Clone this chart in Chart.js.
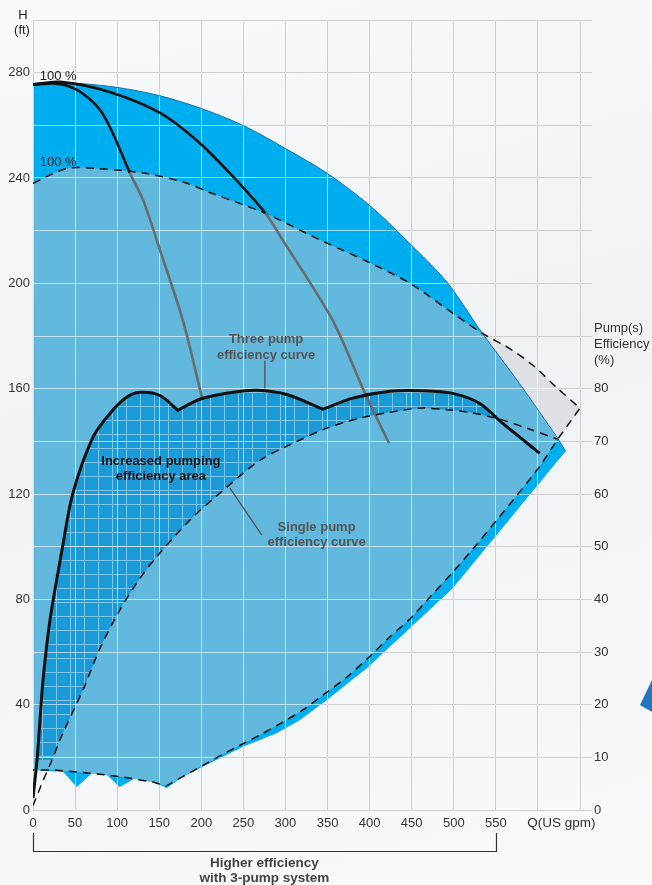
<!DOCTYPE html>
<html>
<head>
<meta charset="utf-8">
<title>Single vs three pump efficiency</title>
<script src="https://cdn.jsdelivr.net/npm/chart.js@4.4.1/dist/chart.umd.min.js"></script>
<style>
  html, body { margin: 0; padding: 0; background: #f5f6f8; }
  #wrap { position: relative; width: 652px; height: 885px; overflow: hidden;
          background: linear-gradient(165deg, #f9fafb 0%, #f0f2f4 45%, #f9fafa 100%); }
  #chart { position: absolute; left: 0; top: 0; }
  #corner { position: absolute; left: 640px; top: 680px; width: 12px; height: 32px; background: #1f77c0;
            clip-path: polygon(100% 0, 100% 100%, 0 78%); }
</style>
</head>
<body>
<div id="wrap">
  <canvas id="chart" width="652" height="885"></canvas>
  <div id="corner"></div>
</div>
<script>
// Q in US gpm, H in ft, efficiency in %

// three pumps: max head curve, right edge, jagged bottom (min speed)
const threePumpTopQ = [0, 50, 100, 150, 200, 250, 300, 350, 400, 444, 492, 534, 578, 623.5, 633];
const threePumpTopH = [276, 276, 274.4, 271.3, 266.4, 259.9, 251.2, 241.7, 229.6, 216.3, 200.4, 181, 162, 141.2, 136.2];
const threePumpEdgeQ = [546, 499, 448, 397, 349, 317, 290, 249, 210, 175, 159];
const threePumpEdgeH = [102.5, 84.3, 69.1, 53.9, 41.7, 34.2, 29.2, 23.9, 17.8, 12.1, 8.3];
const threePumpBottomQ = [142.5, 121, 103, 88, 70, 52, 36, 0];
const threePumpBottomH = [10.6, 12.1, 8.7, 13.3, 14, 8.7, 14.4, 15.2];

// single pump envelope (dashed)
const onePumpTopQ = [0, 40, 76, 135, 183, 210, 276, 337, 399, 448, 499, 534, 566, 594, 622, 650];
const onePumpTopH = [238, 243.6, 243.6, 241.7, 238, 234.5, 226.6, 217.1, 208, 200, 188.6, 181, 175.3, 168.9, 160.5, 152.6];
const onePumpEdgeQ = [623.5, 598.6, 528.5, 497.6, 471.5, 450, 424, 398, 373, 344.4, 320.7, 296.9, 269.6, 230.4, 198.3, 158];
const onePumpEdgeH = [140.8, 129, 101.3, 89.9, 80.8, 73.2, 65.7, 57.7, 50.5, 43.6, 38, 33.4, 28.5, 22, 16.3, 9.1];
const onePumpBottomQ = [142.5, 107, 68, 24, 0];
const onePumpBottomH = [10.6, 12.5, 14, 15.2, 15.2];

// reduced speed head curves (black above the single pump curve, grey below)
const speed1Q = [0, 24, 40, 59, 80, 95, 115, 131, 151, 178, 201];
const speed1H = [275.5, 275.9, 275.1, 272.1, 265.7, 256.9, 242, 231.5, 212.5, 186, 156.4];
const speed2Q = [0, 32, 91, 151, 198, 238, 276, 297, 356, 394, 423];
const speed2H = [275.5, 276.5, 272.7, 264.7, 253.3, 240.4, 226.7, 216.3, 186, 158.6, 139.3];

// efficiency curves (cusps listed twice so the spline keeps the corner)
const threeEffQ = [0, 4.8, 8.3, 11.9, 20.2, 34.4, 47.5, 71.3, 91.4, 111.6, 127.1, 150.8, 172.2, 172.2, 198.3, 237.5, 266, 301.7, 344.4, 344.4, 380, 424, 461, 498.8, 530.9, 558.2, 578.4, 602.1];
const threeEffPct = [2.3, 9.5, 17.1, 24.7, 36.1, 49.3, 60.2, 70.8, 75.3, 78.4, 79.3, 78.7, 75.9, 75.9, 78, 79.3, 79.7, 78.9, 76.1, 76.1, 78.2, 79.5, 79.6, 79.1, 77.2, 73.4, 70.8, 67.7];
const oneEffQ = [0, 10.7, 22.6, 34.4, 59.4, 79.6, 103.3, 127.1, 150.8, 190, 230.4, 269.6, 308.8, 349.2, 388.4, 424, 459.6, 491.7, 519, 554.6, 590.3, 623.5];
const oneEffPct = [0.8, 5.1, 9.5, 14.2, 22.8, 30.7, 38, 44, 48.8, 55.6, 61.3, 66.4, 69.6, 72.5, 74.4, 75.5, 76.3, 76, 75.5, 74.2, 72.3, 70.4];

// axis labels
const xTickLabels = [0, 50, 100, 150, 200, 250, 300, 350, 400, 450, 500, 550];
const headTickLabels = [0, 40, 80, 120, 160, 200, 240, 280];
const effTickLabels = [0, 10, 20, 30, 40, 50, 60, 70, 80];

const FONT = '"Liberation Sans", Arial, sans-serif';
const TENSION = 0.3;

function pts(qs, vs) {
    return qs.map((q, i) => ({ x: q, y: vs[i] }));
}

// every point twice -> straight segments and sharp corners even with tension
function sharp(list) {
    return list.flatMap(p => [p, p]);
}

function interp(qs, vs, q) {
    for (let i = 0; i < qs.length - 1; i++) {
        if (q >= qs[i] && q <= qs[i + 1] && qs[i + 1] > qs[i]) {
            const t = (q - qs[i]) / (qs[i + 1] - qs[i]);
            return vs[i] + t * (vs[i + 1] - vs[i]);
        }
    }
    return vs[vs.length - 1];
}

// first Q in [from, to] where curve a drops below curve b
function crossing(qa, va, qb, vb, from, to) {
    for (let q = from; q <= to; q += 0.5) {
        if (interp(qa, va, q) - interp(qb, vb, q) <= 0) return q;
    }
    return to;
}

const aTop = pts(threePumpTopQ, threePumpTopH);
const maxHeadLine = aTop.slice(0, -2).concat(sharp(aTop.slice(-2)));
const threePumpArea = maxHeadLine
    .concat(sharp(pts(threePumpEdgeQ, threePumpEdgeH)), sharp(pts(threePumpBottomQ, threePumpBottomH)));

const dTop = pts(onePumpTopQ, onePumpTopH);
const dEdge = pts(onePumpEdgeQ, onePumpEdgeH);
const onePumpArea = dTop.slice(0, -1)
    .concat(sharp([dTop[dTop.length - 1], dEdge[0]]), dEdge.slice(1, -1),
            sharp([dEdge[dEdge.length - 1]]), sharp(pts(onePumpBottomQ, onePumpBottomH)));

// grey part: single pump envelope outside the three pump curve
const topCross = crossing(threePumpTopQ, threePumpTopH, onePumpTopQ, onePumpTopH, 400, 620);
const topCrossPt = { x: topCross, y: interp(threePumpTopQ, threePumpTopH, topCross) };
const outsideTop = dTop.filter(p => p.x > topCross);
const outsideArea = [topCrossPt, topCrossPt]
    .concat(outsideTop.slice(0, -1), sharp([outsideTop[outsideTop.length - 1], dEdge[0]]))
    .concat(aTop.filter(p => p.x > topCross && p.x < dEdge[0].x).reverse(), [topCrossPt]);

// hatched gain area between the two efficiency curves
const effCross = crossing(threeEffQ, threeEffPct, oneEffQ, oneEffPct, 480, 620);
const effCrossPt = { x: effCross, y: interp(threeEffQ, threeEffPct, effCross) };
const gainArea = pts(threeEffQ, threeEffPct).filter(p => p.y >= 9.5 && p.x < effCross)
    .concat([effCrossPt, effCrossPt])
    .concat(pts(oneEffQ, oneEffPct).filter(p => p.y >= 9.5 && p.x < effCross).reverse());

function makeHatch() {
    const c = document.createElement('canvas');
    c.width = 14; c.height = 14;
    const g = c.getContext('2d');
    g.fillStyle = '#1a9ad7';
    g.fillRect(0, 0, 14, 14);
    g.fillStyle = 'rgba(255,255,255,0.42)';
    g.fillRect(0, 0, 1, 14);
    g.fillRect(1, 0, 13, 1);
    return g.createPattern(c, 'repeat');
}

// white grid over the coloured areas, drawn right after the last filled area
const gridOverlay = {
    id: 'gridOverlay',
    afterDatasetDraw(chart, args) {
        if (chart.data.datasets[args.index].label !== 'gain') return;
        const { ctx, chartArea: a, scales: { x, y } } = chart;
        const align = p => Math.round(p - 0.5) + 0.5;
        ctx.save();
        ctx.strokeStyle = 'rgba(255,255,255,0.6)';
        ctx.lineWidth = 1;
        ctx.beginPath();
        x.ticks.forEach(t => {
            const p = align(x.getPixelForValue(t.value));
            ctx.moveTo(p, a.top); ctx.lineTo(p, a.bottom);
        });
        y.ticks.forEach(t => {
            const p = align(y.getPixelForValue(t.value));
            ctx.moveTo(a.left, p); ctx.lineTo(a.right, p);
        });
        ctx.stroke();
        ctx.restore();
    }
};

const textLayer = {
    id: 'textLayer',
    afterDraw(chart) {
        const { ctx, chartArea: a, scales: { x, y } } = chart;
        const px = v => x.getPixelForValue(v);
        const py = v => y.getPixelForValue(v);
        ctx.save();
        ctx.textAlign = 'center';
        ctx.textBaseline = 'middle';

        ctx.font = '13px ' + FONT;
        ctx.fillStyle = '#222';
        ctx.fillText('H', 23, 15);
        ctx.fillText('(ft)', 22, 30);
        ctx.fillText('100 %', px(30), py(278.6));
        ctx.fillText('100 %', px(30), py(246));
        ctx.fillStyle = '#333';
        ctx.font = '13.5px ' + FONT;
        ctx.fillText('Q(US gpm)', px(628), a.bottom + 13);
        ctx.font = '13px ' + FONT;
        ctx.textAlign = 'left';
        ['Pump(s)', 'Efficiency', '(%)'].forEach((t, i) => ctx.fillText(t, a.right + 14, py(183) + i * 16));

        ctx.textAlign = 'center';
        ctx.font = 'bold 13px ' + FONT;
        ctx.fillStyle = '#555';
        ctx.fillText('Three pump', px(277), py(178.7));
        ctx.fillText('efficiency curve', px(277), py(172.7));
        ctx.fillText('Single pump', px(337), py(107.4));
        ctx.fillText('efficiency curve', px(337), py(101.7));
        ctx.fillStyle = '#141414';
        ctx.fillText('Increased pumping', px(152), py(132.4));
        ctx.fillText('efficiency area', px(152), py(126.8));

        ctx.strokeStyle = '#555';
        ctx.lineWidth = 1.4;
        ctx.beginPath();
        ctx.moveTo(px(275.5), py(170.6)); ctx.lineTo(px(275.5), py(160.2));
        ctx.moveTo(px(234), py(122.2)); ctx.lineTo(px(272), py(104.4));
        ctx.stroke();

        // bracket under the axis
        const b = a.bottom;
        ctx.strokeStyle = '#333';
        ctx.lineWidth = 1.2;
        ctx.beginPath();
        ctx.moveTo(Math.round(px(0)) + 0.5, b + 23);
        ctx.lineTo(Math.round(px(0)) + 0.5, b + 41.5);
        ctx.lineTo(Math.round(px(550)) + 0.5, b + 41.5);
        ctx.lineTo(Math.round(px(550)) + 0.5, b + 23);
        ctx.stroke();
        ctx.fillStyle = '#444';
        ctx.font = 'bold 13.5px ' + FONT;
        ctx.fillText('Higher efficiency', px(275), b + 53);
        ctx.fillText('with 3-pump system', px(275), b + 68);
        ctx.restore();
    }
};

Chart.defaults.font.family = FONT;
Chart.defaults.font.size = 13;
Chart.defaults.color = '#333';

const fillSet = (label, data, color, order, yAxisID) => ({
    label: label,
    data: data,
    yAxisID: yAxisID || 'y',
    fill: 'shape',
    backgroundColor: color,
    borderColor: 'transparent',
    borderWidth: 0,
    pointRadius: 0,
    tension: TENSION,
    order: order
});

const lineSet = (label, data, color, width, order, extra) => Object.assign({
    label: label,
    data: data,
    borderColor: color,
    borderWidth: width,
    pointRadius: 0,
    tension: TENSION,
    fill: false,
    order: order
}, extra || {});

const greyBelow = { borderColor: c => c.p0DataIndex >= 6 ? '#6b6b6b' : '#111' };

new Chart(document.getElementById('chart'), {
    type: 'line',
    data: {
        datasets: [
            fillSet('threePump', threePumpArea, '#00adee', 20),
            fillSet('onePump', onePumpArea, '#63b8de', 19),
            fillSet('outside', outsideArea, '#dfe0e3', 18),
            fillSet('gain', gainArea, makeHatch(), 17, 'y2'),
            lineSet('maxHead', maxHeadLine, '#1d6ea6', 1, 6),
            lineSet('onePumpOutline', onePumpArea, '#111', 1.5, 5, { borderDash: [8, 6] }),
            lineSet('speed1', pts(speed1Q, speed1H), '#111', 2.6, 4, { segment: greyBelow }),
            lineSet('speed2', pts(speed2Q, speed2H), '#111', 2.6, 4, { segment: greyBelow }),
            lineSet('oneEff', pts(oneEffQ, oneEffPct), '#111', 1.5, 3, { yAxisID: 'y2', borderDash: [8, 6] }),
            lineSet('threeEff', pts(threeEffQ, threeEffPct), '#111', 3, 2, { yAxisID: 'y2' })
        ]
    },
    options: {
        responsive: false,
        animation: false,
        events: [],
        layout: { padding: { top: 20, left: 0, right: 0, bottom: 0 } },
        plugins: { legend: { display: false }, tooltip: { enabled: false } },
        scales: {
            x: {
                type: 'linear',
                min: 0,
                max: 650,
                afterFit: s => { s.height = 75; },
                border: { display: false },
                grid: { color: '#888', drawTicks: false },
                ticks: {
                    stepSize: 50,
                    autoSkip: false,
                    maxRotation: 0,
                    padding: 6,
                    callback: v => xTickLabels.includes(v) ? v : ''
                }
            },
            y: {
                min: 0,
                max: 300,
                afterFit: s => { s.width = 33; },
                border: { display: false },
                grid: { color: '#888', drawTicks: false },
                ticks: {
                    stepSize: 20,
                    autoSkip: false,
                    padding: 3,
                    callback: v => headTickLabels.includes(v) ? v : ''
                }
            },
            y2: {
                position: 'right',
                min: 0,
                max: 150,
                afterFit: s => { s.width = 72; },
                border: { display: false },
                grid: { drawOnChartArea: false, drawTicks: true, tickLength: 12, color: '#cfcfcf' },
                ticks: {
                    stepSize: 10,
                    autoSkip: false,
                    padding: 2,
                    callback: v => effTickLabels.includes(v) ? v : ''
                }
            }
        }
    },
    plugins: [gridOverlay, textLayer]
});
</script>
</body>
</html>
